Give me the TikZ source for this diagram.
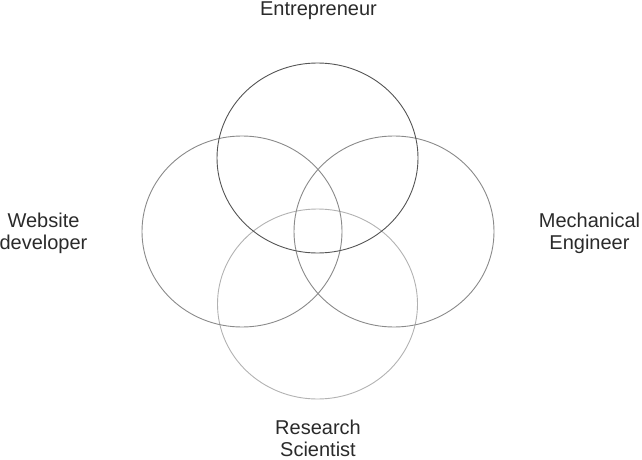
\documentclass[tikz,border=0pt]{standalone}
\usepackage{fontspec}
\setmainfont{Liberation Sans}
\usetikzlibrary{positioning}

\definecolor{rimtop}{HTML}{555555}
\definecolor{rimside}{HTML}{8A8A8A}
\definecolor{rimlow}{HTML}{B2B2B2}
\definecolor{inkgray}{HTML}{2A2A2A}

\begin{document}
\begin{tikzpicture}[x=1pt,y=-1pt,
        ring/.style={line width=0.9pt},
        role/.style={font=\fontsize{20}{22}\selectfont,text=inkgray,align=center,inner sep=0pt,anchor=base}]
        \useasboundingbox (0,0) rectangle (642,460);
        % the four circles
        \draw[ring,draw=rimlow] (317.5,304) ellipse [x radius=100pt,y radius=95pt];
        \foreach \x in {242,394}{
            \draw[ring,draw=rimside] (\x,231.5) ellipse [x radius=100pt,y radius=95.5pt];
        }
        \draw[ring,draw=rimtop] (317.5,158) ellipse [x radius=100.5pt,y radius=95pt];
        % labels (base = last line)
        \node[role] (entre) at (318.5,16) {Entrepreneur};
        \node[role] (web) at (43.5,249.3) {Website\\developer};
        \node[role] (mech) at (589.5,249.3) {Mechanical\\Engineer};
        \node[role] (research) at (318,456.5) {Research\\Scientist};
    \end{tikzpicture}
\end{document}
